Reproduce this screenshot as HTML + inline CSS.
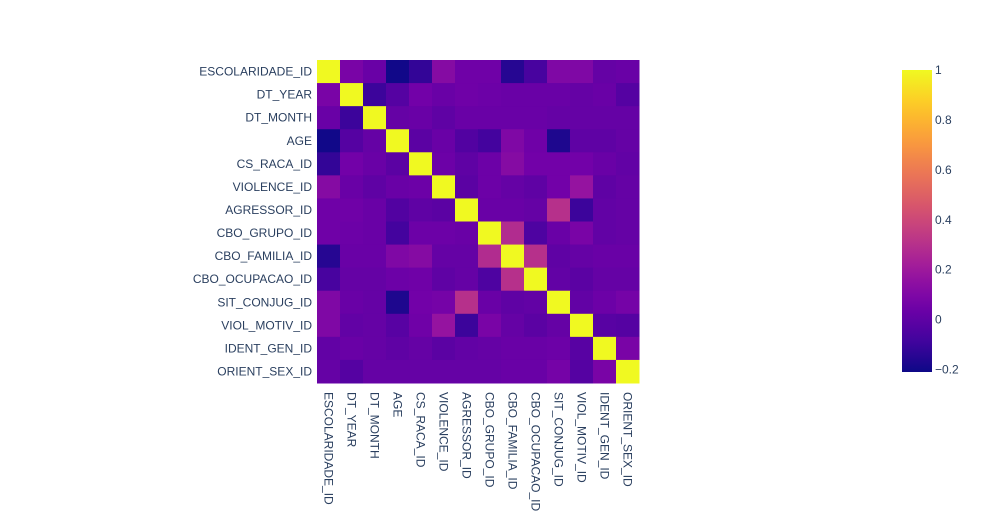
<!DOCTYPE html>
<html><head><meta charset="utf-8"><style>
body{margin:0;background:#fff;}
svg text{font-family:"Liberation Sans",Arial,sans-serif;font-size:12px;fill:#2a3f5f;}
</style></head><body>
<svg id="chart" width="983" height="525" xmlns="http://www.w3.org/2000/svg">
<defs><linearGradient id="cbgrad" x1="0" y1="1" x2="0" y2="0"></linearGradient></defs>
<g id="cells"></g>
<g id="ylabels"></g>
<g id="xlabels"></g>
<g id="colorbar"></g>
</svg>
<script>
const labels=["ESCOLARIDADE_ID","DT_YEAR","DT_MONTH","AGE","CS_RACA_ID","VIOLENCE_ID","AGRESSOR_ID","CBO_GRUPO_ID","CBO_FAMILIA_ID","CBO_OCUPACAO_ID","SIT_CONJUG_ID","VIOL_MOTIV_ID","IDENT_GEN_ID","ORIENT_SEX_ID"];
const r0=[1,0.08,0.03,-0.2,-0.12,0.12,0.05,0.05,-0.15,-0.07,0.1,0.1,0.02,0.03];
const r1=[0.08,1,-0.1,-0.03,0.06,0.03,0.05,0.04,0.03,0.03,0.03,0.02,0.03,-0.03];
const r2=[0.03,-0.1,1,0.02,0.03,0,0.03,0.03,0.03,0.03,0.02,0.02,0.02,0.02];
const r3=[-0.2,-0.03,0.02,1,-0.01,0.03,-0.04,-0.08,0.1,0.05,-0.17,0,0,0.02];
const r4=[-0.12,0.06,0.03,-0.01,1,0.04,0,0.04,0.12,0.06,0.06,0.06,0.03,0.01];
const r5=[0.12,0.03,0,0.03,0.04,1,-0.01,0.04,0.02,0,0.06,0.17,0,0.02];
const r6=[0.05,0.05,0.03,-0.04,0,-0.01,1,0.03,0.03,0.02,0.3,-0.1,0.01,0.02];
const r7=[0.05,0.04,0.03,-0.08,0.04,0.04,0.03,1,0.28,-0.05,0.03,0.08,0.01,0.02];
const r8=[-0.15,0.03,0.03,0.1,0.12,0.02,0.02,0.28,1,0.3,0,0.02,0.03,0.03];
const r9=[-0.07,0.02,0.02,0.04,0.05,0,0.02,-0.05,0.3,1,0.01,-0.01,0.02,0.02];
const r10=[0.1,0.03,0.02,-0.17,0.06,0.07,0.3,0.03,0,0.01,1,0.01,0.04,0.07];
const r11=[0.1,0.01,0.02,-0.02,0.05,0.17,-0.1,0.08,0.02,-0.01,0.02,1,-0.02,-0.03];
const r12=[0.01,0.03,0.02,0,0.02,-0.01,0.01,0.02,0.03,0.03,0.04,-0.02,1,0.08];
const r13=[0.02,-0.03,0.02,0.02,0.02,0.02,0.02,0.02,0.03,0.03,0.07,-0.03,0.08,1];
const z=[r0,r1,r2,r3,r4,r5,r6,r7,r8,r9,r10,r11,r12,r13];
const cbTicks=[-0.2,0,0.2,0.4,0.6,0.8,1];
const zmin=-0.21,zmax=1;
const NS="http://www.w3.org/2000/svg";
const plasma=["#0d0887","#46039f","#7201a8","#9c179e","#bd3786","#d8576b","#ed7953","#fb9f3a","#fdca26","#f0f921"];
function hex(h){return [1,3,5].map(i=>parseInt(h.substr(i,2),16));}
function color(v){let t=(v-zmin)/(zmax-zmin);t=Math.max(0,Math.min(1,t));const p=t*(plasma.length-1),i=Math.min(Math.floor(p),plasma.length-2),f=p-i;const a=hex(plasma[i]),b=hex(plasma[i+1]);return "rgb("+a.map((c,k)=>Math.round(c+(b[k]-c)*f)).join(",")+")";}
const X0=317,X1=639,Y0=60,Y1=383,n=labels.length;
const cw=(X1-X0)/n,ch=(Y1-Y0)/n;
const xs=i=>X0+i*cw, ys=j=>Y0+j*ch;
function mk(tag,attrs,parent){const e=document.createElementNS(NS,tag);for(const k in attrs)e.setAttribute(k,attrs[k]);parent.appendChild(e);return e;}
const gc=document.getElementById("cells");
z.forEach((row,j)=>row.forEach((v,i)=>{
 const r=mk("rect",{x:xs(i),y:ys(j),width:cw+0.5,height:ch+0.5,fill:color(v)},gc);
 
 
}));
const gy=document.getElementById("ylabels"),gx=document.getElementById("xlabels");
labels.forEach((l,k)=>{
 const t=mk("text",{x:312,y:ys(k)+ch/2+4,"text-anchor":"end"},gy);t.textContent=l;
 
 
 const cx=xs(k)+cw/2-4;
 const u=mk("text",{x:0,y:0,transform:"translate("+cx+",392) rotate(90)","text-anchor":"start"},gx);u.textContent=l;
 
 
});
// colorbar
const grad=document.getElementById("cbgrad");
for(let s=0;s<=20;s++){const v=zmin+(zmax-zmin)*s/20;mk("stop",{offset:(s/20),"stop-color":color(v)},grad);}
const gcb=document.getElementById("colorbar");
const CB0=70,CB1=372;
const cbY=v=>CB1-(v-zmin)/(zmax-zmin)*(CB1-CB0);
const bar=mk("rect",{x:902,y:CB0,width:30,height:CB1-CB0,fill:"url(#cbgrad)"},gcb);


cbTicks.forEach(v=>{const t=mk("text",{x:935,y:cbY(v)+4},gcb);t.textContent=(v<0?"\u2212"+Math.abs(v):String(v));
 
 });
</script>
</body></html>
